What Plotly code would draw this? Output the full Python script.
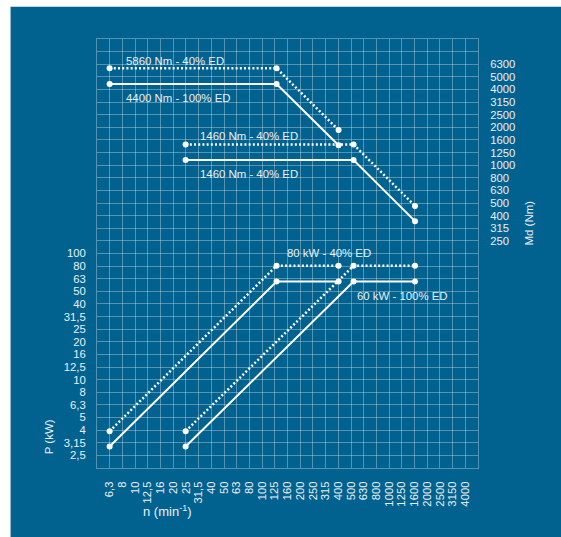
import plotly.graph_objects as go

# ---- data -----------------------------------------------------------------
# motor A: 6.3 ... 400 min-1
speed_a = [6.3, 130, 400]
torque_a_100 = [4400, 4400, 1440]
torque_a_40 = [5860, 5860, 1900]
power_a_100 = [2.95, 60, 60]
power_a_40 = [3.9, 80, 80]

# motor B: 25 ... 1600 min-1
speed_b = [25, 525, 1600]
torque_b_100 = [1100, 1100, 360]
torque_b_40 = [1460, 1460, 475]
power_b_100 = [2.95, 60, 60]
power_b_40 = [3.9, 80, 80]

# tick labels (Renard R10 series)
speed_labels = ["6,3", "8", "10", "12,5", "16", "20", "25", "31,5", "40", "50",
                "63", "80", "100", "125", "160", "200", "250", "315", "400",
                "500", "630", "800", "1000", "1250", "1600", "2000", "2500",
                "3150", "4000"]
power_labels = ["2,5", "3,15", "4", "5", "6,3", "8", "10", "12,5", "16", "20",
                "25", "31,5", "40", "50", "63", "80", "100"]
torque_labels = ["250", "315", "400", "500", "630", "800", "1000", "1250",
                 "1600", "2000", "2500", "3150", "4000", "5000", "6300"]

# ---- styling ----------------------------------------------------------------
BLUE = "#02628f"
GRID = "rgba(255,255,255,0.32)"
TXT = "#e9f0f5"
FONT = "Arial, Liberation Sans, sans-serif"
W, H = 561, 537
L, R, T, B = 97.3, 83.3, 39.3, 68.7

# evenly spaced R10 grid: one step = 0.1 decade
x_ticks = [10 ** (0.8 + 0.1 * i) for i in range(len(speed_labels))]
y_grid = [10 ** (0.4 + 0.1 * i) for i in range(33)]
y_text = power_labels + [" "] * (len(y_grid) - len(power_labels))
y2_ticks = [10 ** (2.4 + 0.1 * i) for i in range(len(torque_labels))]

fig = go.Figure()


def add_curve(x, y, axis, dotted):
    fig.add_trace(go.Scatter(
        x=x, y=y, yaxis=axis, mode="lines+markers",
        line=dict(color="white", width=2.5 if dotted else 2,
                  dash="2px,2.2px" if dotted else "solid"),
        marker=dict(color="white", size=6),
        showlegend=False, hoverinfo="skip",
    ))


add_curve(speed_a, torque_a_40, "y2", True)
add_curve(speed_a, torque_a_100, "y2", False)
add_curve(speed_b, torque_b_40, "y2", True)
add_curve(speed_b, torque_b_100, "y2", False)
add_curve(speed_a, power_a_40, "y", True)
add_curve(speed_a, power_a_100, "y", False)
add_curve(speed_b, power_b_40, "y", True)
add_curve(speed_b, power_b_100, "y", False)

# curve captions (x in log10 units, y in log10 units of the given axis)
captions = [
    ("5860 Nm - 40% ED", 0.913, 3.828, "y2"),
    ("4400 Nm - 100% ED", 0.913, 3.532, "y2"),
    ("1460 Nm - 40% ED", 1.493, 3.234, "y2"),
    ("1460 Nm - 40% ED", 1.496, 2.930, "y2"),
    ("80 kW - 40% ED", 2.183, 2.003, "y"),
    ("60 kW - 100% ED", 2.730, 1.663, "y"),
]
annotations = []
for text, xl, yl, ax in captions:
    annotations.append(dict(
        text=text, x=xl, y=yl, xref="x", yref=ax, xanchor="left",
        yanchor="middle", showarrow=False,
        font=dict(family=FONT, size=11.4, color=TXT),
    ))

PW = W - L - R
PH = H - T - B


def px(xp):
    return (xp - L) / PW


def py(yp):
    return (H - B - yp) / PH


annotations += [
    dict(text="P (kW)", x=px(49), y=py(437), xref="paper", yref="paper",
         textangle=-90, showarrow=False, xanchor="center", yanchor="middle",
         font=dict(family=FONT, size=11.5, color=TXT)),
    dict(text="Md (Nm)", x=px(528.5), y=py(223), xref="paper", yref="paper",
         textangle=-90, showarrow=False, xanchor="center", yanchor="middle",
         font=dict(family=FONT, size=11.5, color=TXT)),
    dict(text="n (min<sup>-1</sup>)", x=px(167.5), y=py(511), xref="paper",
         yref="paper", showarrow=False, xanchor="center", yanchor="middle",
         font=dict(family=FONT, size=13, color=TXT)),
]

fig.update_layout(
    width=W, height=H,
    margin=dict(l=L, r=R, t=T, b=B, pad=0),
    paper_bgcolor="white",
    plot_bgcolor=BLUE,
    font=dict(family=FONT, size=11, color=TXT),
    shapes=[dict(type="rect", xref="paper", yref="paper",
                 x0=px(11), x1=px(W + 20), y0=py(H + 20), y1=py(7),
                 fillcolor=BLUE, line=dict(width=0), layer="below")],
    annotations=annotations,
    xaxis=dict(
        type="log", range=[0.7, 3.7],
        tickvals=x_ticks, ticktext=speed_labels, tickangle=-90,
        ticks="outside", ticklen=8, tickcolor="rgba(0,0,0,0)",
        showgrid=True, gridcolor=GRID, gridwidth=1,
        showline=True, mirror=True, linecolor=GRID, linewidth=1,
        zeroline=False, tickfont=dict(family=FONT, size=11.3, color=TXT),
    ),
    yaxis=dict(
        type="log", range=[0.3, 3.7],
        tickvals=y_grid, ticktext=y_text,
        ticks="outside", ticklen=8, tickcolor="rgba(0,0,0,0)",
        showgrid=True, gridcolor=GRID, gridwidth=1,
        showline=True, mirror=True, linecolor=GRID, linewidth=1,
        zeroline=False, tickfont=dict(family=FONT, size=11.3, color=TXT),
    ),
    yaxis2=dict(
        type="log", range=[0.6, 4.0], overlaying="y", side="right",
        tickvals=y2_ticks, ticktext=torque_labels,
        ticks="outside", ticklen=9, tickcolor="rgba(0,0,0,0)",
        showgrid=False, showline=False, zeroline=False,
        tickfont=dict(family=FONT, size=11.3, color=TXT),
    ),
)

fig.write_html("out.html")
